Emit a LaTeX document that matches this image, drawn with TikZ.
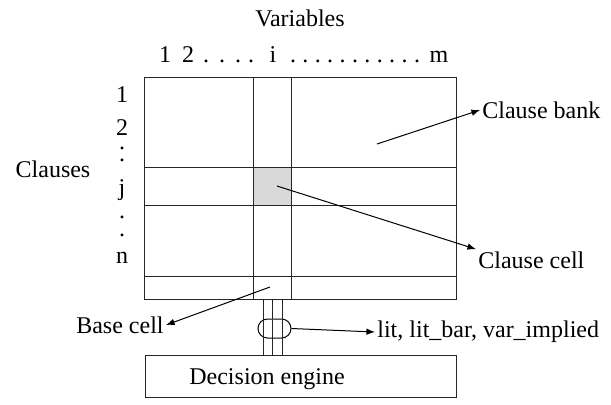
\documentclass[tikz,border=0pt]{standalone}
\usepackage{fontspec}
\setmainfont{Liberation Serif}
\usetikzlibrary{shapes.misc, arrows, positioning}
\tikzstyle{grid} = [line width=0.5pt, draw=black!85]
\tikzstyle{cell} = [grid, fill=black!15]
\tikzstyle{enginebox} = [rectangle, line width=0.5pt, draw=black!85, minimum width=155.5pt, minimum height=21pt]
\tikzstyle{busring} = [rounded rectangle, line width=0.5pt, draw=black, fill=white, minimum width=16.5pt, minimum height=9.5pt, inner sep=0pt]
\tikzstyle{tag} = [inner sep=1pt, font=\fontsize{12}{14}\selectfont]
\tikzstyle{index} = [tag, anchor=base]
\tikzstyle{arrow} = [line width=0.5pt, ->, >=latex]

\begin{document}
\begin{tikzpicture}[x=0.5pt, y=-0.5pt]
  \useasboundingbox (0,0) rectangle (611,404);

  % clause bank grid
  \draw[cell] (253,167) rectangle (291,205);
  \draw[grid] (144,77) rectangle (456,299);
  \draw[grid] (253,77) -- (253,299);
  \draw[grid] (291,77) -- (291,299);
  \draw[grid] (144,167) -- (456,167);
  \draw[grid] (144,205) -- (456,205);
  \draw[grid] (144,276) -- (456,276);

  % bus down to the decision engine
  \node (engine) [enginebox] at (300.5,376) {};
  \foreach \x in {263,272.5,282}
    \draw[grid] (\x,299) -- (\x,355);
  \node (ring) [busring] at (274.5,328.5) {};
  \draw[grid] (263,319.5) -- (263,337.5);
  \draw[grid] (272.5,319.5) -- (272.5,337.5);
  \draw[grid] (282,319.5) -- (282,337.5);
  \node (enginetxt) [tag] at (267,379) {Decision engine};

  % axis labels
  \node (vars) [tag] at (300,18) {Variables};
  \node (clauses) [tag] at (53,169) {Clauses};
  \node [index] at (165,62) {1};
  \node [index] at (188,62) {2};
  \foreach \x in {206,222,238,251}
    \node [index] at (\x,62) {.};
  \node [index] at (273,62) {i};
  \foreach \k in {0,...,10}
    \node [index] at (293+12.4*\k,62) {.};
  \node [index] at (439,62) {m};
  \node [index] at (122,102) {1};
  \node [index] at (122,135) {2};
  \node [index] at (122,149.5) {.};
  \node [index] at (122,161.5) {.};
  \node [index] at (122,195) {j};
  \node [index] at (122,218.5) {.};
  \node [index] at (122,236.5) {.};
  \node [index] at (122,263) {n};

  % callouts
  \coordinate (bankpt) at (377,144);
  \coordinate (cellpt) at (277,186);
  \coordinate (basept) at (270,287);
  \node (banklbl) [tag, anchor=west] at (480,110) {Clause bank};
  \node (celllbl) [tag, anchor=west] at (476,260) {Clause cell};
  \node (baselbl) [tag, anchor=east] at (166,325) {Base cell};
  \node (sigs) [tag, anchor=west] at (375,332) {lit, lit\_bar, var\_implied};

  \draw[arrow] (bankpt) -- (banklbl.west);
  \draw[arrow] (cellpt) -- (celllbl.north west);
  \draw[arrow] (basept) -- (baselbl.east);
  \draw[arrow] (ring.east) -- (sigs.west);
\end{tikzpicture}
\end{document}
